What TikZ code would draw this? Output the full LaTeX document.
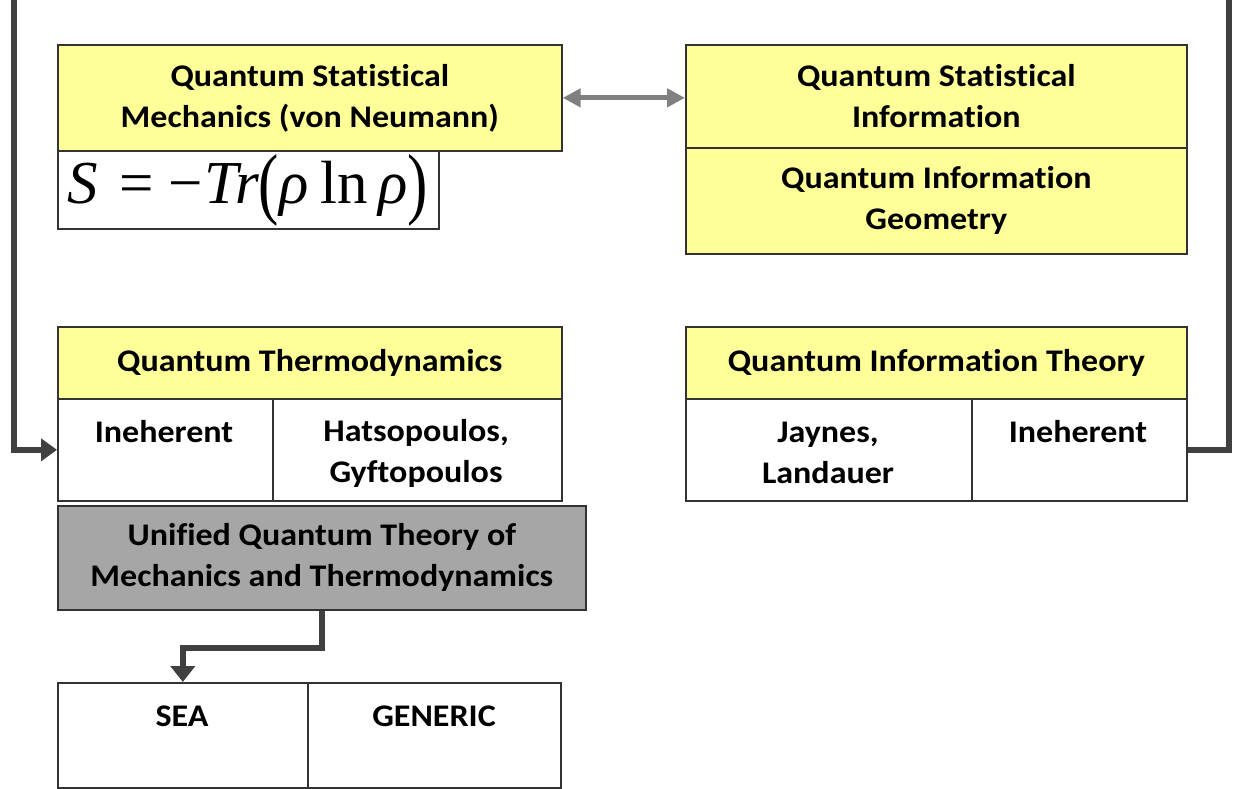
\documentclass[tikz,border=0pt]{standalone}
\usepackage{fontspec}
\setmainfont{Carlito}[Ligatures=NoCommon, FakeStretch=1.08]
\newfontfamily\fsrm{Liberation Serif}
\usepackage{graphicx}
\usetikzlibrary{arrows.meta}
\definecolor{ylw}{HTML}{FFFF99}
\definecolor{gbox}{HTML}{A6A6A6}
\definecolor{conn}{HTML}{404040}
\definecolor{darr}{HTML}{808080}
\definecolor{edge}{HTML}{333333}
\begin{document}
\begin{tikzpicture}[x=1pt,y=-1pt,
  font=\bfseries\fontsize{31.5}{41}\selectfont,
  cell/.style={draw=edge, line width=1.7pt, anchor=north west, inner sep=0pt, align=center},
  ycell/.style={cell, fill=ylw},
  wcell/.style={cell, fill=white},
  gcell/.style={cell, fill=gbox},
  txt/.style={align=center, inner sep=0pt},
  connline/.style={draw=conn, line width=6pt},
]
\useasboundingbox[fill=white] (0,0) rectangle (1239,789);

% top row
\node[ycell, minimum width=504pt, minimum height=106pt] (qsm) at (57,44) {Quantum Statistical\\Mechanics (von Neumann)};
\node[wcell, minimum width=381pt, minimum height=78pt] (form) at (57,150) {};
\node[txt, anchor=west] (formtxt) at (67,190) {\fsrm\mdseries\fontsize{61}{61}\selectfont\textit{S}\kern 22pt=\kern 14pt\textminus\kern 2pt\textit{Tr}\raisebox{-0.09em}{\scalebox{1}[1.3]{(}}\textit{ρ}\kern 12pt ln\kern 10pt\textit{ρ}\raisebox{-0.09em}{\scalebox{1}[1.3]{)}}};
\node[ycell, minimum width=501pt, minimum height=103pt] (qsi) at (685,44) {Quantum Statistical\\Information};
\node[ycell, minimum width=501pt, minimum height=106pt] (qig) at (685,147) {Quantum Information\\Geometry};

% middle row
\node[ycell, minimum width=504pt, minimum height=72pt] (qt) at (57,326) {Quantum Thermodynamics};
\node[wcell, minimum width=215pt, minimum height=102pt] (qtL) at (57,398) {};
\node[wcell, minimum width=289pt, minimum height=102pt] (qtR) at (272,398) {};
\node[txt, anchor=base] (qtLt) at (164,442) {Ineherent};
\node[txt, anchor=center] (qtRt) at (416,453) {Hatsopoulos,\\Gyftopoulos};

\node[ycell, minimum width=501pt, minimum height=72pt] (qit) at (685,326) {Quantum Information Theory};
\node[wcell, minimum width=286pt, minimum height=102pt] (qitL) at (685,398) {};
\node[wcell, minimum width=215pt, minimum height=102pt] (qitR) at (971,398) {};
\node[txt, anchor=center] (qitLt) at (828,453) {Jaynes,\\Landauer};
\node[txt, anchor=base] (qitRt) at (1078,442) {Ineherent};

% unified
\node[gcell, minimum width=528pt, minimum height=104pt] (uq) at (57,505) {Unified Quantum Theory of\\Mechanics and Thermodynamics};

% bottom
\node[wcell, minimum width=250pt, minimum height=105pt] (sea) at (57,682) {};
\node[wcell, minimum width=253pt, minimum height=105pt] (gen) at (307,682) {};
\node[txt, anchor=base] (seat) at (182,726) {SEA};
\node[txt, anchor=base] (gent) at (434,726) {GENERIC};

% connectors
\coordinate (lt) at (14,0);
\coordinate (rt) at (1229,0);
\draw[connline, -{Triangle[length=16pt,width=22pt]}] (lt) |- (qtL.west);
\draw[connline] (rt) |- (qitR.east);
\draw[draw=darr, line width=5pt, {Triangle[length=18pt,width=18pt]}-{Triangle[length=18pt,width=18pt]}] (qsm.east) -- (qsm.east -| qsi.west);
\draw[connline, -{Triangle[length=16pt,width=24pt]}] (uq.south) -- ++(0,37) -| (sea.north);
\end{tikzpicture}
\end{document}
